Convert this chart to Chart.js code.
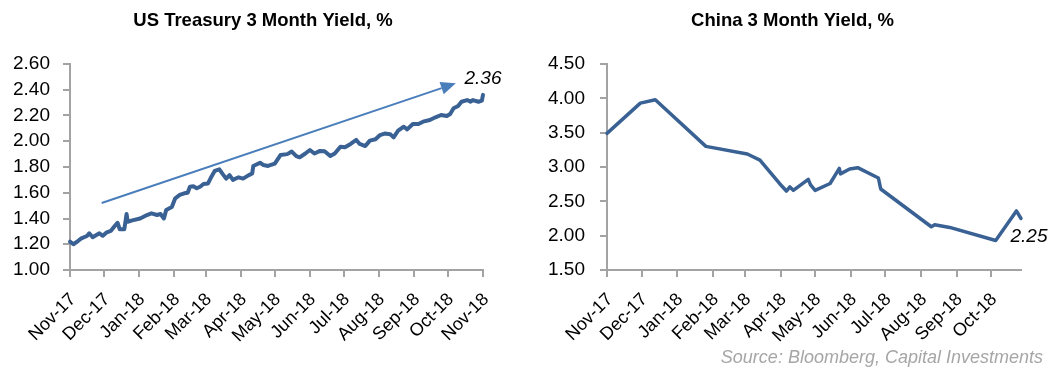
<!DOCTYPE html>
<html>
<head>
<meta charset="utf-8">
<script src="https://cdn.jsdelivr.net/npm/chart.js@4"></script>
<style>
  html, body { margin: 0; padding: 0; background: #fff; }
  #wrap { position: relative; width: 1059px; height: 369px; overflow: hidden; }
  .box { position: absolute; top: 0; height: 369px; }
  #usBox { left: 0; width: 530px; }
  #cnBox { left: 530px; width: 529px; }
</style>
</head>
<body>
<div id="wrap">
  <div class="box" id="usBox"><canvas id="us" width="530" height="369"></canvas></div>
  <div class="box" id="cnBox"><canvas id="cn" width="529" height="369"></canvas></div>
</div>
<script>
// US Treasury 3 month bill yield, %
const usDates = [
  '2017-11-01','2017-11-04','2017-11-08','2017-11-11','2017-11-16','2017-11-18','2017-11-21','2017-11-24',
  '2017-11-27','2017-11-30','2017-12-03','2017-12-07','2017-12-10','2017-12-13','2017-12-15','2017-12-19',
  '2017-12-21','2017-12-22','2017-12-26','2018-01-02','2018-01-08','2018-01-12','2018-01-17','2018-01-20',
  '2018-01-23','2018-01-25','2018-01-30','2018-02-02','2018-02-06','2018-02-10','2018-02-13','2018-02-15',
  '2018-02-18','2018-02-21','2018-02-24','2018-02-27','2018-03-03','2018-03-06','2018-03-09','2018-03-13',
  '2018-03-16','2018-03-19','2018-03-22','2018-03-25','2018-03-30','2018-04-03','2018-04-08','2018-04-11',
  '2018-04-12','2018-04-18','2018-04-21','2018-04-25','2018-05-01','2018-05-06','2018-05-12','2018-05-16',
  '2018-05-20','2018-05-23','2018-05-28','2018-06-01','2018-06-05','2018-06-10','2018-06-14','2018-06-19',
  '2018-06-23','2018-06-28','2018-07-02','2018-07-07','2018-07-12','2018-07-15','2018-07-20','2018-07-24',
  '2018-07-29','2018-08-02','2018-08-06','2018-08-11','2018-08-14','2018-08-18','2018-08-23','2018-08-26',
  '2018-08-31','2018-09-05','2018-09-09','2018-09-15','2018-09-20','2018-09-25','2018-09-30','2018-10-03',
  '2018-10-06','2018-10-10','2018-10-13','2018-10-18','2018-10-21','2018-10-23','2018-10-28','2018-10-31',
  '2018-11-01'
];
const usYield = [
  1.22, 1.20, 1.225, 1.246, 1.264, 1.285, 1.254, 1.27,
  1.285, 1.266, 1.29, 1.303, 1.336, 1.367, 1.316, 1.316,
  1.435, 1.375, 1.385, 1.40, 1.427, 1.44, 1.427, 1.435,
  1.40, 1.466, 1.49, 1.557, 1.583, 1.596, 1.60, 1.647,
  1.65, 1.635, 1.647, 1.668, 1.672, 1.725, 1.77, 1.782,
  1.745, 1.71, 1.737, 1.70, 1.72, 1.71, 1.737, 1.75,
  1.808, 1.833, 1.815, 1.808, 1.827, 1.893, 1.90, 1.92,
  1.885, 1.875, 1.905, 1.932, 1.905, 1.925, 1.922, 1.885,
  1.905, 1.958, 1.953, 1.979, 2.01, 1.979, 1.963, 2.005,
  2.015, 2.048, 2.06, 2.055, 2.03, 2.082, 2.113, 2.092,
  2.134, 2.134, 2.152, 2.165, 2.186, 2.204, 2.196, 2.212,
  2.256, 2.274, 2.307, 2.32, 2.307, 2.32, 2.307, 2.315,
  2.36
];

// China 3 month yield, %
const cnDates = [
  '2017-11-01','2017-11-30','2017-12-13','2018-01-26','2018-03-03','2018-03-14','2018-03-31','2018-04-06',
  '2018-04-09','2018-04-12','2018-04-25','2018-04-27','2018-05-01','2018-05-14','2018-05-22','2018-05-23',
  '2018-05-31','2018-06-07','2018-06-25','2018-06-27','2018-08-10','2018-08-13','2018-08-26','2018-10-05',
  '2018-10-23','2018-10-27'
];
const cnYield = [
  3.49, 3.93, 3.98, 3.30, 3.19, 3.10, 2.76, 2.65,
  2.71, 2.66, 2.82, 2.74, 2.66, 2.76, 2.98, 2.90,
  2.97, 2.99, 2.84, 2.68, 2.13, 2.16, 2.12, 1.93,
  2.36, 2.25
];

// axis ticks
const usMonths = ['Nov-17','Dec-17','Jan-18','Feb-18','Mar-18','Apr-18','May-18','Jun-18','Jul-18','Aug-18','Sep-18','Oct-18','Nov-18'];
const cnMonths = ['Nov-17','Dec-17','Jan-18','Feb-18','Mar-18','Apr-18','May-18','Jun-18','Jul-18','Aug-18','Sep-18','Oct-18'];
const usTicks = [1.00, 1.20, 1.40, 1.60, 1.80, 2.00, 2.20, 2.40, 2.60];
const cnTicks = [1.50, 2.00, 2.50, 3.00, 3.50, 4.00, 4.50];

// trend arrow over the US series: [date, yield] from / to
const usArrow = [['2017-11-29', 1.52], ['2018-10-08', 2.45]];

const DAY = 864e5;
const MONTHS = ['Jan','Feb','Mar','Apr','May','Jun','Jul','Aug','Sep','Oct','Nov','Dec'];
const toDay = s => Date.parse(s + 'T00:00:00Z') / DAY;
const monthDay = lbl => {
  const [m, y] = lbl.split('-');
  return Date.UTC(2000 + Number(y), MONTHS.indexOf(m), 1) / DAY;
};

const FONT = "'Liberation Sans', Arial, sans-serif";
const AXIS = '#a3a3a3';
const LINE = '#3a6194';
const ARROW = '#4a7ebb';

// titles, trend arrow, end-value labels and source note
const annot = {
  id: 'annot',
  afterDatasetsDraw(chart, args, o) {
    const { ctx } = chart;
    const x = chart.scales.x, y = chart.scales.y;
    ctx.save();

    ctx.fillStyle = '#000';
    ctx.font = `bold 18.5px ${FONT}`;
    ctx.textAlign = 'center';
    ctx.textBaseline = 'alphabetic';
    ctx.fillText(o.title, chart.width / 2 - 2, 26);

    if (o.arrow) {
      const x0 = x.getPixelForValue(toDay(o.arrow[0][0])), y0 = y.getPixelForValue(o.arrow[0][1]);
      const x1 = x.getPixelForValue(toDay(o.arrow[1][0])), y1 = y.getPixelForValue(o.arrow[1][1]);
      const ang = Math.atan2(y1 - y0, x1 - x0), L = 15, W = 6.5;
      const bx = x1 - L * Math.cos(ang), by = y1 - L * Math.sin(ang);
      ctx.strokeStyle = ARROW;
      ctx.fillStyle = ARROW;
      ctx.lineWidth = 2;
      ctx.beginPath();
      ctx.moveTo(x0, y0);
      ctx.lineTo(bx, by);
      ctx.stroke();
      ctx.beginPath();
      ctx.moveTo(x1, y1);
      ctx.lineTo(bx + W * Math.sin(ang), by - W * Math.cos(ang));
      ctx.lineTo(bx - W * Math.sin(ang), by + W * Math.cos(ang));
      ctx.closePath();
      ctx.fill();
    }

    const pts = chart.data.datasets[0].data;
    const last = pts[pts.length - 1];
    const px = x.getPixelForValue(last.x), py = y.getPixelForValue(last.y);
    ctx.fillStyle = '#000';
    ctx.font = `italic 19px ${FONT}`;
    ctx.textAlign = 'center';
    ctx.textBaseline = 'middle';
    ctx.fillText(last.y.toFixed(2), px + o.labelDx, py + o.labelDy);

    if (o.source) {
      ctx.fillStyle = '#a6a6a6';
      ctx.font = `italic 18px ${FONT}`;
      ctx.textAlign = 'right';
      ctx.textBaseline = 'alphabetic';
      ctx.fillText(o.source, chart.width - 16, 363);
    }
    ctx.restore();
  }
};

function build(id, dates, values, months, yTicks, cfg) {
  const monthVals = months.map(monthDay);
  const data = dates.map((d, i) => ({ x: toDay(d), y: values[i] }));
  return new Chart(document.getElementById(id), {
    type: 'line',
    data: {
      datasets: [{
        data,
        borderColor: LINE,
        borderWidth: cfg.lineWidth,
        pointRadius: 0,
        tension: 0,
        borderJoinStyle: 'round',
        borderCapStyle: 'round',
        clip: 6
      }]
    },
    options: {
      responsive: false,
      animation: false,
      events: [],
      layout: { padding: { left: 0, top: 64, right: cfg.padRight, bottom: 0 } },
      plugins: {
        legend: { display: false },
        tooltip: { enabled: false },
        annot: cfg.annot
      },
      scales: {
        x: {
          type: 'linear',
          min: monthVals[0],
          max: toDay(cfg.xMax),
          afterBuildTicks: s => { s.ticks = monthVals.map(v => ({ value: v })); },
          afterFit: s => { s.height = 99; },
          ticks: {
            autoSkip: false, minRotation: 45, maxRotation: 45, padding: 12, labelOffset: 3,
            color: '#000', font: { family: FONT, size: 18 },
            callback: (v, i) => months[i]
          },
          grid: { drawOnChartArea: false, tickLength: 7, color: AXIS, lineWidth: 2 },
          border: { color: AXIS, width: 2 }
        },
        y: {
          min: yTicks[0],
          max: yTicks[yTicks.length - 1],
          afterBuildTicks: s => { s.ticks = yTicks.map(v => ({ value: v })); },
          afterFit: s => { s.width = cfg.yWidth; },
          ticks: {
            autoSkip: false,
            padding: cfg.yPad, color: '#000', font: { family: FONT, size: 19 },
            callback: v => Number(v).toFixed(2)
          },
          grid: { drawOnChartArea: false, tickLength: 7, color: AXIS, lineWidth: 2 },
          border: { color: AXIS, width: 2 }
        }
      }
    },
    plugins: [annot]
  });
}

build('us', usDates, usYield, usMonths, usTicks, {
  lineWidth: 4, padRight: 47, yWidth: 70, yPad: 13, xMax: '2018-11-01',
  annot: { title: 'US Treasury 3 Month Yield, %', arrow: usArrow, labelDx: 0, labelDy: -16 }
});

build('cn', cnDates, cnYield, cnMonths, cnTicks, {
  lineWidth: 3.5, padRight: 38, yWidth: 77, yPad: 15, xMax: '2018-10-27',
  annot: { title: 'China 3 Month Yield, %', labelDx: 8, labelDy: 18.5,
           source: 'Source: Bloomberg, Capital Investments' }
});
</script>
</body>
</html>
